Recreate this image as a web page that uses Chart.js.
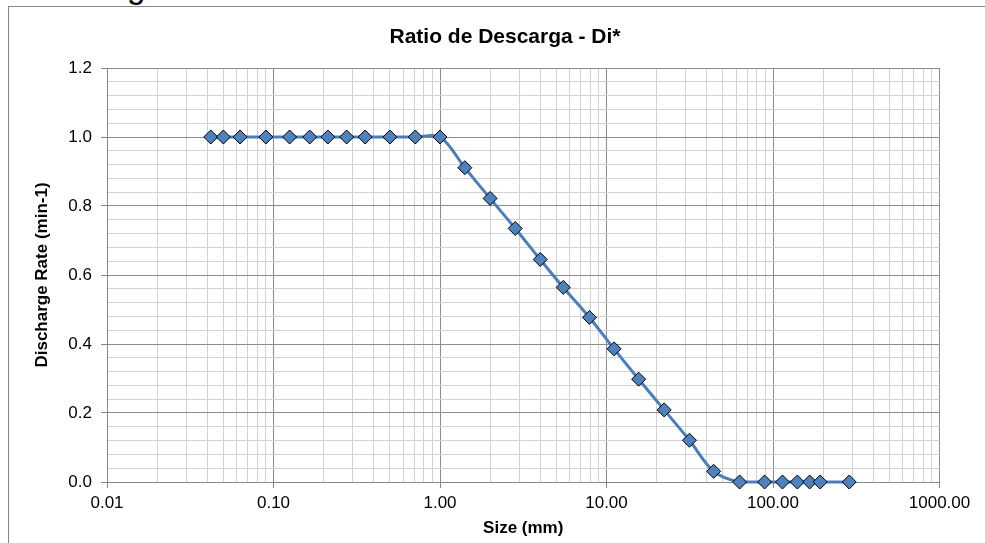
<!DOCTYPE html>
<html>
<head>
<meta charset="utf-8">
<script src="https://cdn.jsdelivr.net/npm/chart.js@4"></script>
<style>
  html, body { margin: 0; padding: 0; background: #fff; overflow: hidden; }
  #wrap { position: relative; width: 985px; height: 543px; }
  #frame { position: absolute; left: 8px; top: 6px; right: -10px; bottom: -10px;
           border-top: 1.5px solid #868686; border-left: 1.5px solid #868686; }
  #cut { position: absolute; left: 127px; top: -30px; font: 33px "Liberation Sans", Arial, sans-serif;
         line-height: 1; color: #000; }
  #myChart { position: absolute; left: 0; top: 0; }
</style>
</head>
<body>
<div id="wrap">
  <div id="frame"></div>
  <div id="cut">g</div>
  <canvas id="myChart" width="985" height="543"></canvas>
</div>
<script>
const chartTitle = 'Ratio de Descarga - Di*';
const xTitle = 'Size (mm)';
const yTitle = 'Discharge Rate (min-1)';

// particle size (mm) and discharge rate
const sizes = [0.042, 0.05, 0.063, 0.09, 0.125, 0.165, 0.212, 0.275, 0.355, 0.5, 0.71, 1.0,
               1.41, 2.0, 2.83, 4.0, 5.5, 7.9, 11.1, 15.6, 22.2, 31.5, 44,
               63, 89, 114, 140, 166, 192, 287];
const rates = [1, 1, 1, 1, 1, 1, 1, 1, 1, 1, 1, 1,
               0.911, 0.822, 0.735, 0.645, 0.564, 0.477, 0.386, 0.298, 0.209, 0.121, 0.031,
               0, 0, 0, 0, 0, 0, 0];

const xMajorTicks = [0.01, 0.1, 1, 10, 100, 1000];
const xTickLabels = ['0.01', '0.10', '1.00', '10.00', '100.00', '1000.00'];
const yMajorTicks = [0, 0.2, 0.4, 0.6, 0.8, 1.0, 1.2];
const yTickLabels = ['0.0', '0.2', '0.4', '0.6', '0.8', '1.0', '1.2'];
const yMinorStep = 0.04;

const majorGrid = '#8c8c8c';
const minorGrid = '#d2d2d2';
const font = '"Liberation Sans", Arial, sans-serif';

const isNear = (a, b) => Math.abs(a - b) < 1e-6 * Math.max(1, Math.abs(b));
const xIsMajor = v => xMajorTicks.some(m => isNear(v, m));
const yIsMajor = v => yMajorTicks.some(m => isNear(v, m));

const titlePlugin = {
  id: 'centerTitle',
  afterDraw(chart) {
    const c = chart.ctx;
    c.save();
    c.font = 'bold 21px ' + font;
    c.fillStyle = '#000';
    c.textAlign = 'center';
    c.textBaseline = 'middle';
    c.fillText(chartTitle, 505, 37);
    c.restore();
  }
};

const ctx = document.getElementById('myChart');
new Chart(ctx, {
  type: 'line',
  data: {
    datasets: [{
      label: 'Di*',
      data: sizes.map((s, i) => ({ x: s, y: rates[i] })),
      borderColor: '#4A7EBB',
      borderWidth: 3,
      tension: 0.33,
      pointStyle: 'rectRot',
      pointRadius: 7,
      pointHoverRadius: 7,
      pointBackgroundColor: '#4F81BD',
      pointBorderColor: '#000',
      pointBorderWidth: 1,
      clip: false
    }]
  },
  plugins: [titlePlugin],
  options: {
    responsive: false,
    animation: false,
    devicePixelRatio: 1,
    layout: { padding: { left: 0, top: 68, right: 45.5, bottom: 0 } },
    plugins: {
      legend: { display: false },
      title: { display: false },
      tooltip: { enabled: false }
    },
    scales: {
      x: {
        type: 'logarithmic',
        min: 0.01,
        max: 1000,
        afterBuildTicks(scale) {
          const t = [];
          for (let d = 0; d < xMajorTicks.length - 1; d++) {
            for (let k = 1; k <= 9; k++) t.push({ value: xMajorTicks[d] * k });
          }
          t.push({ value: xMajorTicks[xMajorTicks.length - 1] });
          scale.ticks = t;
        },
        afterFit(scale) { scale.height = 61; },
        border: { color: '#868686', width: 1 },
        grid: {
          color: c => xIsMajor(c.tick.value) ? majorGrid : minorGrid,
          tickColor: c => xIsMajor(c.tick.value) ? '#868686' : 'rgba(0,0,0,0)',
          tickLength: 6,
          lineWidth: 1
        },
        ticks: {
          autoSkip: false,
          maxRotation: 0,
          padding: 5,
          color: '#000',
          font: { family: font, size: 17 },
          callback(v) {
            const i = xMajorTicks.findIndex(m => isNear(v, m));
            return i >= 0 ? xTickLabels[i] : '';
          }
        },
        title: {
          display: true,
          text: xTitle,
          color: '#000',
          font: { family: font, size: 17, weight: 'bold' },
          padding: { top: 0, bottom: 4 }
        }
      },
      y: {
        type: 'linear',
        min: 0,
        max: 1.2,
        afterBuildTicks(scale) {
          const t = [];
          const n = Math.round(1.2 / yMinorStep);
          for (let i = 0; i <= n; i++) t.push({ value: Math.round(i * yMinorStep * 1000) / 1000 });
          scale.ticks = t;
        },
        afterFit(scale) { scale.width = 107; },
        border: { color: '#868686', width: 1 },
        grid: {
          color: c => yIsMajor(c.tick.value) ? majorGrid : minorGrid,
          tickColor: c => yIsMajor(c.tick.value) ? '#868686' : 'rgba(0,0,0,0)',
          tickLength: 6,
          lineWidth: 1
        },
        ticks: {
          autoSkip: false,
          padding: 9,
          color: '#000',
          font: { family: font, size: 17 },
          callback(v) {
            const i = yMajorTicks.findIndex(m => isNear(v, m));
            return i >= 0 ? yTickLabels[i] : '';
          }
        },
        title: {
          display: true,
          text: yTitle,
          color: '#000',
          font: { family: font, size: 17, weight: 'bold' },
          padding: { top: 32, bottom: 0 }
        }
      }
    }
  }
});
</script>
</body>
</html>
